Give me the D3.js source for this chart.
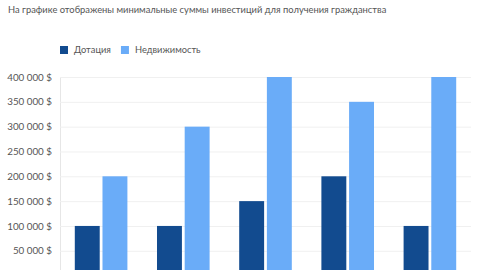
<!DOCTYPE html>
<html>
<head>
<meta charset="utf-8">
<script src="https://cdn.jsdelivr.net/npm/d3@7"></script>
<style>
  html, body { margin: 0; padding: 0; background: #fff; }
  svg { display: block; font-family: Lato, sans-serif; }
</style>
</head>
<body>
<svg id="chart" width="480" height="270"></svg>
<script>
// Minimum investment for citizenship, by programme
const categories = ["Доминика", "Антигуа и Барбуда", "Сент-Китс и Невис", "Гренада", "Сент-Люсия"];
const seriesNames = ["Дотация", "Недвижимость"];
const donation = [100000, 100000, 150000, 200000, 100000];
const realEstate = [200000, 300000, 400000, 350000, 400000];
const yTicks = [50000, 100000, 150000, 200000, 250000, 300000, 350000, 400000];
const colors = ["#124b8f", "#6aacf8"];

const svg = d3.select("#chart");
const margin = { left: 60, right: 9, top: 77 };
const plotW = 480 - margin.left - margin.right;
const zeroY = 275.6;

const x0 = d3.scaleBand().domain(categories).range([margin.left, margin.left + plotW])
  .paddingInner(0.36).paddingOuter(0.18);
const x1 = d3.scaleBand().domain(seriesNames).range([0, x0.bandwidth()]).paddingInner(0.1);
const y = d3.scaleLinear().domain([0, 400000]).range([zeroY, margin.top]);

const fmt = v => d3.format(",")(v).replace(/,/g, " ") + " $";

// Title
svg.append("text").attr("x", 8).attr("y", 12.5)
  .attr("font-size", 9.35).attr("fill", "#555")
  .text("На графике отображены минимальные суммы инвестиций для получения гражданства");

// Legend
const legend = svg.append("g");
let lx = 60;
seriesNames.forEach((name, i) => {
  legend.append("rect").attr("x", lx).attr("y", 46).attr("width", 8).attr("height", 8).attr("fill", colors[i]);
  const t = legend.append("text").attr("x", lx + 14).attr("y", 53.3)
    .attr("font-size", 9.3).attr("fill", "#555").text(name);
  lx += 14 + t.node().getComputedTextLength() + 10;
});

// Grid lines and y axis
const yAxis = d3.axisLeft(y).tickValues(yTicks).tickSize(-plotW).tickFormat(fmt).tickPadding(8);
const gy = svg.append("g").attr("transform", `translate(${margin.left},0)`).call(yAxis);
gy.select(".domain").attr("stroke", "#e6e6e6");
gy.selectAll(".tick line").attr("stroke", "#f0f0f0");
gy.selectAll(".tick text").attr("font-size", 9.8).attr("fill", "#555").attr("font-family", "Lato, sans-serif");

// Bars, grouped by programme
const data = categories.map((c, i) => ({ c, vals: [donation[i], realEstate[i]] }));
const groups = svg.append("g").selectAll("g").data(data).join("g")
  .attr("transform", d => `translate(${x0(d.c)},0)`);
groups.selectAll("rect").data(d => d.vals.map((v, i) => ({ v, k: seriesNames[i], i })))
  .join("rect")
  .attr("x", d => x1(d.k)).attr("width", x1.bandwidth())
  .attr("y", d => y(d.v)).attr("height", d => zeroY - y(d.v))
  .attr("fill", d => colors[d.i]);
</script>
</body>
</html>
